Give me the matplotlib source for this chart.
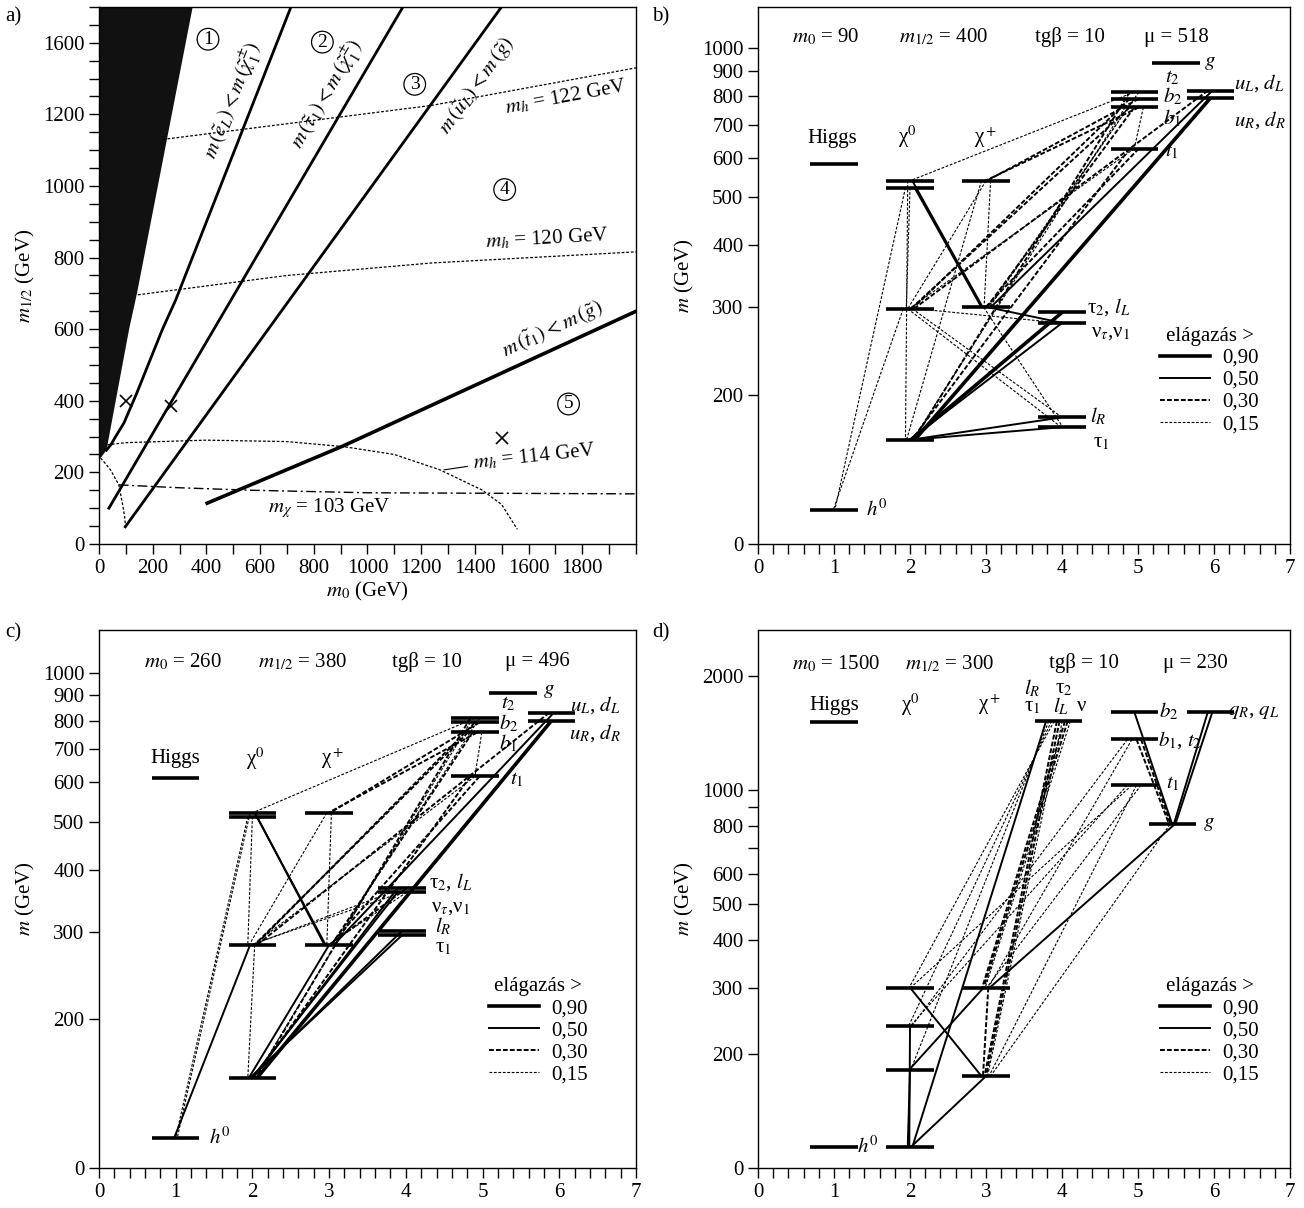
import numpy as np
import matplotlib
matplotlib.use("Agg")
import matplotlib.pyplot as plt
from matplotlib.lines import Line2D
from matplotlib.ticker import FixedLocator, MultipleLocator

plt.rcParams["font.family"] = ["Liberation Serif", "DejaVu Serif"]
plt.rcParams["mathtext.fontset"] = "stix"
plt.rcParams["lines.scale_dashes"] = False
plt.rcParams["axes.linewidth"] = 1.0

FS = 15

# ---------------- panel a: (m0, m1/2) plane ----------------
black_m0 = [0, 6, 28, 112, 142, 349, 0]
black_m12 = [240, 240, 262, 599, 702, 1500, 1500]
sel_m0 = [28, 45, 62, 93, 140, 236, 286, 715]
sel_m12 = [262, 278, 300, 338, 420, 599, 682, 1500]
stau_m0 = [37, 1132]
stau_m12 = [100, 1500]
sup_m0 = [98, 1499]
sup_m12 = [48, 1500]
stop_m0 = [403, 910, 2000]
stop_m12 = [114, 274, 650]
mh122_m0 = [238, 1238, 2000]
mh122_m12 = [1130, 1225, 1330]
mh120_m0 = [145, 700, 1240, 2000]
mh120_m12 = [696, 750, 785, 816]
mh114_m0 = [31, 100, 400, 700, 910, 1100, 1270, 1426, 1500, 1558]
mh114_m12 = [277, 283, 290, 286, 272, 250, 207, 151, 110, 41]
edge_m0 = [6, 20, 43, 74, 87, 95, 99]
edge_m12 = [240, 228, 207, 165, 114, 80, 48]
mchi_m0 = [74, 300, 570, 1000, 2000]
mchi_m12 = [165, 157, 150, 143, 140]
points_m0 = [100, 270, 1500]
points_m12 = [400, 385, 295]
region_text = ["1", "2", "3", "4", "5"]
region_m0 = [406, 832, 1176, 1511, 1749]
region_m12 = [1410, 1402, 1284, 990, 391]

# ---------------- spectra (b, c, d) ----------------
b_names = ["h0", "H", "N1", "N2", "N3", "N4", "C1", "C2", "stau2", "snu", "slR", "stau1",
           "t1", "b1", "b2", "t2", "g", "uL", "uR"]
b_x = [1, 1, 2, 2, 2, 2, 3, 3, 4, 4, 4, 4, 4.95, 4.95, 4.95, 4.95, 5.5, 5.95, 5.95]
b_mass = [117, 584, 162, 298, 523, 540, 300, 540, 293, 279, 180, 172,
          627, 759, 790, 815, 935, 821, 792]
b_decays = [
    ("uR", "N1", 90), ("uL", "C1", 50), ("uL", "N2", 30),
    ("t2", "N4", 15), ("t2", "N1", 30), ("t2", "C1", 15),
    ("b2", "N2", 30), ("b2", "C2", 30), ("b2", "C1", 15),
    ("b1", "N2", 30), ("b1", "C1", 30), ("b1", "C2", 30), ("b1", "N1", 15), ("b1", "t1", 15),
    ("t1", "C1", 30), ("t1", "N1", 30), ("t1", "N2", 15),
    ("N4", "C1", 50), ("N3", "C1", 50), ("N3", "N2", 15), ("N3", "h0", 15), ("N4", "N1", 15),
    ("C2", "C1", 15), ("C2", "N2", 15), ("C2", "N1", 15),
    ("N2", "h0", 15), ("N2", "slR", 15), ("N2", "stau1", 15), ("N2", "snu", 15),
    ("C1", "snu", 50), ("C1", "stau1", 15),
    ("stau2", "N1", 90), ("snu", "N1", 50), ("slR", "N1", 50), ("stau1", "N1", 50),
]
b_header = [r"$m_0$ = 90", r"$m_{1/2}$ = 400", "tgβ = 10", "μ = 518"]
b_header_x = [0.89, 2.44, 4.10, 5.50]
b_labels = [r"$g$", r"$t_2$", r"$b_2$", r"$b_1$", r"$t_1$", r"$u_L$, $d_L$", r"$u_R$, $d_R$",
            r"τ$_2$, $l_L$", r"ν$_τ$,ν$_1$", r"$l_R$", r"τ$_1$", r"$h^0$",
            "Higgs", r"χ$^0$", r"χ$^+$"]
b_label_x = [5.94, 5.45, 5.45, 5.45, 5.45, 6.6, 6.6, 4.62, 4.64, 4.48, 4.51, 1.56, 0.98, 1.97, 2.99]
b_label_m = [933, 872, 798, 720, 617, 852, 715, 300, 267, 181, 160, 117, 657, 661, 661]

c_names = b_names
c_x = [1, 1, 2, 2, 2, 2, 3, 3, 3.95, 3.95, 3.95, 3.95, 4.9, 4.9, 4.9, 4.9, 5.4, 5.9, 5.9]
c_mass = [115, 612, 152, 282, 512, 521, 282, 521, 367, 360, 301, 295,
          617, 757, 793, 809, 911, 830, 800]
c_decays = [
    ("uR", "N1", 90), ("uL", "C1", 50), ("uL", "N2", 30),
    ("t2", "N4", 15), ("t2", "N1", 30), ("t2", "C1", 15),
    ("b2", "C2", 30), ("b2", "N2", 30), ("b2", "N1", 15),
    ("b1", "C2", 30), ("b1", "C1", 30), ("b1", "N2", 30), ("b1", "t1", 15),
    ("t1", "N1", 30), ("t1", "C1", 30), ("t1", "N2", 15),
    ("N4", "C1", 50), ("N3", "C1", 50), ("N4", "h0", 15), ("N3", "h0", 15), ("N3", "N2", 15),
    ("C2", "C1", 15), ("C2", "N2", 15),
    ("N2", "h0", 50), ("N2", "N1", 15), ("C1", "N1", 50),
    ("stau2", "N1", 50), ("snu", "N1", 50), ("slR", "N1", 50), ("stau1", "N1", 50),
    ("stau2", "N2", 15), ("snu", "C1", 15), ("stau2", "C1", 30), ("snu", "N2", 15),
]
c_header = [r"$m_0$ = 260", r"$m_{1/2}$ = 380", "tgβ = 10", "μ = 496"]
c_header_x = [1.10, 2.65, 4.28, 5.71]
c_labels = b_labels
c_label_x = [5.86, 5.34, 5.34, 5.34, 5.45, 6.47, 6.47, 4.58, 4.58, 4.49, 4.49, 1.58, 1.0, 2.04, 3.05]
c_label_m = [921, 866, 788, 720, 607, 860, 754, 378, 336, 307, 278, 115, 671, 671, 671]

d_names = ["h0", "H", "N1", "N2", "N3", "N4", "C1", "C2", "slep", "t1", "b1", "b2", "g", "q"]
d_x = [1, 1, 2, 2, 2, 2, 3, 3, 3.95, 4.95, 4.95, 4.95, 5.45, 5.95]
d_mass = [113.6, 1514, 113.6, 182, 237, 300, 175, 300, 1519, 1029, 1359, 1608, 810, 1610]
d_decays = [
    ("q", "g", 50), ("q", "g", 50), ("b2", "g", 50), ("b1", "g", 30), ("b1", "g", 30),
    ("b1", "N3", 15), ("b1", "C2", 15),
    ("t1", "C2", 15), ("t1", "C1", 15), ("t1", "N3", 15), ("t1", "N4", 15),
    ("g", "C2", 50), ("g", "C1", 15),
    ("slep", "N1", 50), ("slep", "C2", 30), ("slep", "C1", 30), ("slep", "C2", 30),
    ("slep", "C1", 30), ("slep", "N4", 15), ("slep", "N3", 15), ("slep", "N2", 15),
    ("slep", "C2", 15), ("slep", "C1", 15),
    ("N4", "C1", 50), ("N3", "N1", 50), ("N2", "N1", 50), ("C2", "N2", 50),
    ("C2", "C1", 30), ("C1", "N1", 50),
]
d_header = [r"$m_0$ = 1500", r"$m_{1/2}$ = 300", "tgβ = 10", "μ = 230"]
d_header_x = [1.03, 2.52, 4.29, 5.75]
d_labels = [r"$b_2$", r"$b_1$, $t_2$", r"$t_1$", r"$g$", r"$q_R$, $q_L$", r"$h^0$",
            "Higgs", r"χ$^0$", r"χ$^+$", r"$l_R$", r"τ$_2$", r"τ$_1$", r"$l_L$", "ν"]
d_label_x = [5.4, 5.55, 5.46, 5.93, 6.52, 1.45, 1.0, 2.0, 3.05, 3.61, 4.03, 3.61, 3.99, 4.26]
d_label_m = [1608, 1355, 1040, 813, 1608, 113.6, 1675, 1675, 1675, 1854, 1854, 1658, 1658, 1658]

branch_classes = [90, 50, 30, 15]
branch_text = ["0,90", "0,50", "0,30", "0,15"]
line_style = {
    90: dict(lw=2.6, ls="-"),
    50: dict(lw=1.4, ls="-"),
    30: dict(lw=1.4, ls=(0, (3.5, 1.5))),
    15: dict(lw=0.8, ls=(0, (2.0, 1.2))),
}


def spread(n, w_max, step):
    if n <= 1:
        return [0.0]
    w = min(w_max, step * (n - 1) / 2)
    return list(np.linspace(-w, w, n))


def spectrum(ax, names, xs, masses, decays, top, header, header_x, header_m,
             labels, label_x, label_m, yticks, ytick_labels, legend_anchor):
    idx = {n: i for i, n in enumerate(names)}
    outs = {n: [] for n in names}
    ins = {n: [] for n in names}
    for k, (p, d, br) in enumerate(decays):
        outs[p].append(k)
        ins[d].append(k)
    # spread the line ends a little along each bar
    x0 = {}
    x1 = {}
    for n in names:
        ks = sorted(outs[n], key=lambda k: (xs[idx[decays[k][1]]], masses[idx[decays[k][1]]]))
        for k, off in zip(ks, spread(len(ks), 0.16, 0.06)):
            x0[k] = xs[idx[n]] + off
        ks = sorted(ins[n], key=lambda k: (xs[idx[decays[k][0]]], masses[idx[decays[k][0]]]))
        for k, off in zip(ks, spread(len(ks), 0.06, 0.02)):
            x1[k] = xs[idx[n]] + off
    for k, (p, d, br) in enumerate(decays):
        ax.plot([x0[k], x1[k]], [masses[idx[p]], masses[idx[d]]], color="k",
                zorder=2, solid_capstyle="butt", **line_style[br])
    for x, m in zip(xs, masses):
        ax.plot([x - 0.31, x + 0.31], [m, m], color="k", lw=2.6, zorder=3,
                solid_capstyle="butt")
    for t, x in zip(header, header_x):
        ax.text(x, header_m, t, ha="center", va="center", fontsize=FS)
    for t, x, m in zip(labels, label_x, label_m):
        ax.text(x, m, t, ha="center", va="center", fontsize=FS)

    ax.set_yscale("log")
    ax.set_xlim(0, 7)
    ax.set_ylim(100, top)
    ax.yaxis.set_major_locator(FixedLocator(yticks))
    ax.yaxis.set_minor_locator(FixedLocator([]))
    ax.set_yticklabels(ytick_labels)
    ax.xaxis.set_major_locator(MultipleLocator(1))
    ax.xaxis.set_minor_locator(MultipleLocator(0.2))
    ax.tick_params(which="both", direction="out", length=7, width=1, labelsize=FS)
    ax.set_ylabel(r"$m$ (GeV)", fontsize=FS, labelpad=4)

    handles = [Line2D([], [], color="k", **line_style[b]) for b in branch_classes]
    ax.legend(handles, branch_text, title="elágazás >", frameon=False,
              fontsize=FS, title_fontsize=FS, handlelength=2.4,
              handletextpad=0.6, labelspacing=0.12, loc="upper left",
              bbox_to_anchor=legend_anchor, borderaxespad=0)


fig = plt.figure(figsize=(13.04, 12.08), dpi=100)
ax_a = fig.add_axes([0.0759, 0.5497, 0.4118, 0.4445])
ax_b = fig.add_axes([0.5813, 0.5497, 0.408, 0.4445])
ax_c = fig.add_axes([0.0759, 0.0331, 0.4118, 0.4454])
ax_d = fig.add_axes([0.5813, 0.0331, 0.408, 0.4454])

# panel a
ax = ax_a
ax.fill(black_m0, black_m12, color="#111111", lw=0, zorder=2)
ax.plot(sel_m0, sel_m12, color="k", lw=2.0)
ax.plot(stau_m0, stau_m12, color="k", lw=2.0)
ax.plot(sup_m0, sup_m12, color="k", lw=2.0)
ax.plot(stop_m0, stop_m12, color="k", lw=2.6)
dot = (0, (2.0, 1.3))
for xs_, ys_ in [(mh122_m0, mh122_m12), (mh120_m0, mh120_m12),
                 (mh114_m0, mh114_m12), (edge_m0, edge_m12)]:
    ax.plot(xs_, ys_, color="k", lw=0.9, ls=dot)
ax.plot(mchi_m0, mchi_m12, color="k", lw=1.0, ls=(0, (7, 2.5, 1.5, 2.5)))
ax.plot(points_m0, points_m12, ls="none", marker="x", ms=9, mew=1.2, color="k")
for t, x, y in zip(region_text, region_m0, region_m12):
    ax.text(x, y, t, ha="center", va="center", fontsize=14,
            bbox=dict(boxstyle="circle,pad=0.12", fc="white", ec="k", lw=0.9))


def slope_deg(xs_, ys_):
    return np.degrees(np.arctan2(ys_[-1] - ys_[-2], xs_[-1] - xs_[-2]))


line_labels = [
    (r"$m\,(\tilde{e}_L) < m\,(\tilde{\chi}_1^{\pm})$", 500, 1240, slope_deg(sel_m0, sel_m12)),
    (r"$m\,(\tilde{\tau}_1) < m\,(\tilde{\chi}_1^{\pm})$", 850, 1255, slope_deg(stau_m0, stau_m12)),
    (r"$m\,(\tilde{u}_L) < m\,(\tilde{g})$", 1410, 1280, slope_deg(sup_m0, sup_m12)),
    (r"$m\,(\tilde{t}_1) < m\,(\tilde{g})$", 1690, 600, slope_deg(stop_m0, stop_m12)),
    (r"$m_h$ = 122 GeV", 1740, 1248, slope_deg(mh122_m0, mh122_m12)),
    (r"$m_h$ = 120 GeV", 1668, 852, slope_deg(mh120_m0, mh120_m12)),
]
for t, x, y, ang in line_labels:
    ax.text(x, y, t, ha="center", va="center", fontsize=FS, rotation=ang,
            transform_rotates_text=True, rotation_mode="anchor")
ax.annotate(r"$m_h$ = 114 GeV", xy=(1285, 207), xytext=(1620, 244), ha="center",
            va="center", fontsize=FS, rotation=6,
            arrowprops=dict(arrowstyle="-", lw=0.8, shrinkA=1, shrinkB=0, color="k"))
ax.text(856, 100, r"$m_\chi$ = 103 GeV", ha="center", va="center", fontsize=FS)

ax.set_xlim(0, 2000)
ax.set_ylim(0, 1500)
ax.xaxis.set_major_locator(FixedLocator(np.arange(0, 1801, 200)))
ax.xaxis.set_minor_locator(MultipleLocator(100))
ax.yaxis.set_major_locator(FixedLocator(np.arange(0, 1401, 200)))
ax.set_yticklabels(["0", "200", "400", "600", "800", "1000", "1200", "1600"])
ax.yaxis.set_minor_locator(MultipleLocator(50))
ax.tick_params(which="both", direction="out", length=7, width=1, labelsize=FS)
ax.set_xlabel(r"$m_0$ (GeV)", fontsize=FS, labelpad=2)
ax.set_ylabel(r"$m_{1/2}$ (GeV)", fontsize=FS, labelpad=4)

bc_ticks = [100, 200, 300, 400, 500, 600, 700, 800, 900, 1000]
bc_tick_labels = ["0", "200", "300", "400", "500", "600", "700", "800", "900", "1000"]
d_ticks = [100, 200, 300, 400, 500, 600, 700, 800, 900, 1000, 2000]
d_tick_labels = ["0", "200", "300", "400", "500", "600", "", "800", "", "1000", "2000"]

spectrum(ax_b, b_names, b_x, b_mass, b_decays, 1210, b_header, b_header_x, 1051,
         b_labels, b_label_x, b_label_m, bc_ticks, bc_tick_labels, (0.74, 0.42))
spectrum(ax_c, c_names, c_x, c_mass, c_decays, 1219, c_header, c_header_x, 1052,
         c_labels, c_label_x, c_label_m, bc_ticks, bc_tick_labels, (0.71, 0.37))
spectrum(ax_d, d_names, d_x, d_mass, d_decays, 2646, d_header, d_header_x, 2158,
         d_labels, d_label_x, d_label_m, d_ticks, d_tick_labels, (0.74, 0.37))

for t, x, y in [("a)", 0.004, 0.986), ("b)", 0.5, 0.986), ("c)", 0.004, 0.476), ("d)", 0.5, 0.476)]:
    fig.text(x, y, t, fontsize=FS, ha="left", va="center")

fig.savefig("out.png", dpi=100)
